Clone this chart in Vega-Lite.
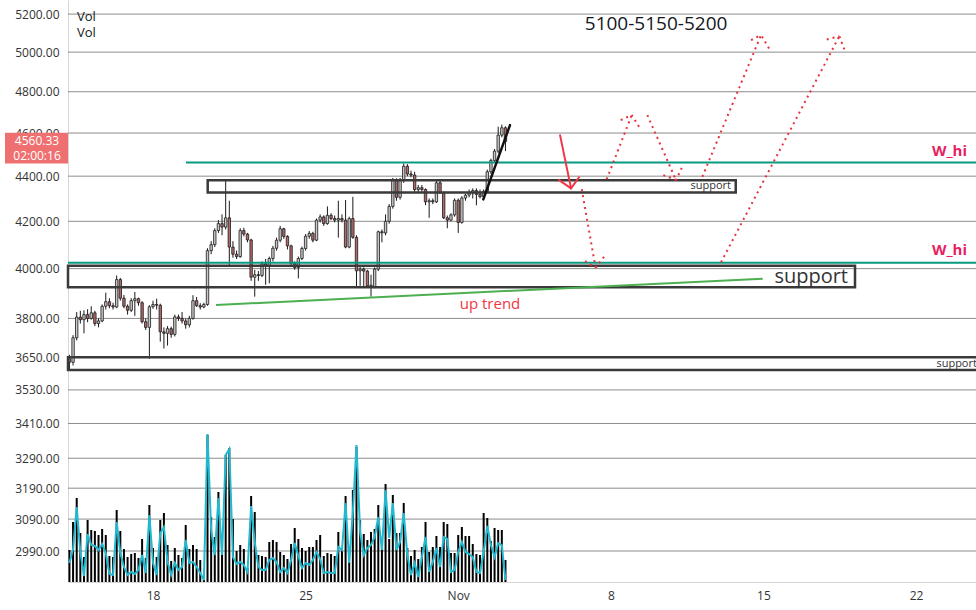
{
"$schema": "https://vega.github.io/schema/vega-lite/v6.json",
"width": 908, "height": 582,
"autosize": {"type": "none"},
"padding": {"left": 68, "top": 0, "right": 0, "bottom": 28},
"background": "white",
"config": {"view": {"stroke": null}, "font": "Open Sans", "axis": {"labelFont": "Open Sans", "labelFontSize": 12, "labelColor": "#333333"}},
"datasets": {
"candles": [
{"t":"2021-10-14T04:00Z","o":3645,"h":3660,"l":3603,"c":3632,"v":3200,"v2":1900},
{"t":"2021-10-14T08:00Z","o":3632,"h":3735,"l":3620,"c":3725,"v":6000,"v2":3300},
{"t":"2021-10-14T12:00Z","o":3725,"h":3825,"l":3715,"c":3805,"v":8400,"v2":7500},
{"t":"2021-10-14T16:00Z","o":3805,"h":3830,"l":3780,"c":3795,"v":4900,"v2":3000},
{"t":"2021-10-14T20:00Z","o":3795,"h":3832,"l":3742,"c":3815,"v":2500,"v2":600},
{"t":"2021-10-15T00:00Z","o":3815,"h":3836,"l":3785,"c":3800,"v":6200,"v2":4800},
{"t":"2021-10-15T04:00Z","o":3800,"h":3848,"l":3795,"c":3822,"v":5200,"v2":3700},
{"t":"2021-10-15T08:00Z","o":3822,"h":3830,"l":3770,"c":3780,"v":5100,"v2":3600},
{"t":"2021-10-15T12:00Z","o":3780,"h":3800,"l":3765,"c":3790,"v":4700,"v2":3200},
{"t":"2021-10-15T16:00Z","o":3790,"h":3855,"l":3785,"c":3848,"v":5300,"v2":3800},
{"t":"2021-10-15T20:00Z","o":3848,"h":3902,"l":3835,"c":3866,"v":4700,"v2":2900},
{"t":"2021-10-16T00:00Z","o":3866,"h":3880,"l":3840,"c":3850,"v":2600,"v2":800},
{"t":"2021-10-16T04:00Z","o":3850,"h":3862,"l":3835,"c":3845,"v":2500,"v2":700},
{"t":"2021-10-16T08:00Z","o":3845,"h":3972,"l":3840,"c":3955,"v":7200,"v2":6000},
{"t":"2021-10-16T12:00Z","o":3955,"h":3962,"l":3870,"c":3880,"v":5100,"v2":2900},
{"t":"2021-10-16T16:00Z","o":3880,"h":3893,"l":3840,"c":3848,"v":3300,"v2":1500},
{"t":"2021-10-16T20:00Z","o":3848,"h":3855,"l":3815,"c":3832,"v":2500,"v2":700},
{"t":"2021-10-17T00:00Z","o":3832,"h":3880,"l":3825,"c":3870,"v":2800,"v2":1000},
{"t":"2021-10-17T04:00Z","o":3870,"h":3905,"l":3810,"c":3878,"v":2900,"v2":800},
{"t":"2021-10-17T08:00Z","o":3878,"h":3882,"l":3850,"c":3862,"v":2400,"v2":1200},
{"t":"2021-10-17T12:00Z","o":3862,"h":3868,"l":3780,"c":3787,"v":4300,"v2":2700},
{"t":"2021-10-17T16:00Z","o":3787,"h":3800,"l":3755,"c":3765,"v":2400,"v2":900},
{"t":"2021-10-17T20:00Z","o":3765,"h":3852,"l":3645,"c":3846,"v":7700,"v2":6700},
{"t":"2021-10-18T00:00Z","o":3846,"h":3870,"l":3838,"c":3855,"v":3400,"v2":1900},
{"t":"2021-10-18T04:00Z","o":3855,"h":3878,"l":3835,"c":3852,"v":2500,"v2":700},
{"t":"2021-10-18T08:00Z","o":3852,"h":3858,"l":3710,"c":3748,"v":6200,"v2":4900},
{"t":"2021-10-18T12:00Z","o":3748,"h":3765,"l":3684,"c":3742,"v":6900,"v2":5500},
{"t":"2021-10-18T16:00Z","o":3742,"h":3770,"l":3695,"c":3760,"v":3700,"v2":2000},
{"t":"2021-10-18T20:00Z","o":3760,"h":3768,"l":3725,"c":3738,"v":2100,"v2":700},
{"t":"2021-10-19T00:00Z","o":3738,"h":3815,"l":3730,"c":3806,"v":3400,"v2":1900},
{"t":"2021-10-19T04:00Z","o":3806,"h":3815,"l":3790,"c":3800,"v":2700,"v2":1200},
{"t":"2021-10-19T08:00Z","o":3800,"h":3825,"l":3780,"c":3790,"v":2400,"v2":1500},
{"t":"2021-10-19T12:00Z","o":3790,"h":3800,"l":3760,"c":3775,"v":5700,"v2":4200},
{"t":"2021-10-19T16:00Z","o":3775,"h":3810,"l":3765,"c":3800,"v":3300,"v2":1900},
{"t":"2021-10-19T20:00Z","o":3800,"h":3892,"l":3795,"c":3870,"v":3700,"v2":2000},
{"t":"2021-10-20T00:00Z","o":3870,"h":3885,"l":3845,"c":3850,"v":3300,"v2":1500},
{"t":"2021-10-20T04:00Z","o":3850,"h":3860,"l":3835,"c":3845,"v":2200,"v2":900},
{"t":"2021-10-20T08:00Z","o":3845,"h":3862,"l":3840,"c":3855,"v":200,"v2":200},
{"t":"2021-10-20T12:00Z","o":3855,"h":4085,"l":3850,"c":4075,"v":14700,"v2":14800},
{"t":"2021-10-20T16:00Z","o":4075,"h":4115,"l":4060,"c":4100,"v":6500,"v2":5200},
{"t":"2021-10-20T20:00Z","o":4100,"h":4170,"l":4090,"c":4160,"v":4500,"v2":2700},
{"t":"2021-10-21T00:00Z","o":4160,"h":4205,"l":4150,"c":4190,"v":9000,"v2":8400},
{"t":"2021-10-21T04:00Z","o":4190,"h":4230,"l":4140,"c":4175,"v":2900,"v2":2700},
{"t":"2021-10-21T08:00Z","o":4175,"h":4380,"l":4165,"c":4215,"v":12700,"v2":12700},
{"t":"2021-10-21T12:00Z","o":4215,"h":4290,"l":4010,"c":4090,"v":13400,"v2":13300},
{"t":"2021-10-21T16:00Z","o":4090,"h":4115,"l":4045,"c":4060,"v":6300,"v2":2500},
{"t":"2021-10-21T20:00Z","o":4060,"h":4075,"l":4040,"c":4050,"v":3100,"v2":1800},
{"t":"2021-10-22T00:00Z","o":4050,"h":4170,"l":4045,"c":4160,"v":3700,"v2":2000},
{"t":"2021-10-22T04:00Z","o":4160,"h":4172,"l":4135,"c":4145,"v":3300,"v2":1700},
{"t":"2021-10-22T08:00Z","o":4145,"h":4150,"l":4110,"c":4120,"v":1400,"v2":1000},
{"t":"2021-10-22T12:00Z","o":4120,"h":4125,"l":3950,"c":3965,"v":8600,"v2":7600},
{"t":"2021-10-22T16:00Z","o":3965,"h":3995,"l":3886,"c":3975,"v":7000,"v2":4000},
{"t":"2021-10-22T20:00Z","o":3975,"h":3990,"l":3950,"c":3972,"v":2700,"v2":1500},
{"t":"2021-10-23T00:00Z","o":3972,"h":4030,"l":3965,"c":4020,"v":2600,"v2":1200},
{"t":"2021-10-23T04:00Z","o":4020,"h":4040,"l":3934,"c":4010,"v":2500,"v2":1200},
{"t":"2021-10-23T08:00Z","o":4010,"h":4050,"l":3940,"c":4042,"v":4000,"v2":2200},
{"t":"2021-10-23T12:00Z","o":4042,"h":4095,"l":4030,"c":4085,"v":4200,"v2":2400},
{"t":"2021-10-23T16:00Z","o":4085,"h":4130,"l":4075,"c":4119,"v":4000,"v2":2000},
{"t":"2021-10-23T20:00Z","o":4119,"h":4180,"l":4110,"c":4168,"v":3000,"v2":1000},
{"t":"2021-10-24T00:00Z","o":4168,"h":4172,"l":4125,"c":4135,"v":2700,"v2":1400},
{"t":"2021-10-24T04:00Z","o":4135,"h":4140,"l":4080,"c":4095,"v":2300,"v2":900},
{"t":"2021-10-24T08:00Z","o":4095,"h":4100,"l":4015,"c":4022,"v":3800,"v2":2200},
{"t":"2021-10-24T12:00Z","o":4022,"h":4030,"l":3995,"c":4005,"v":5400,"v2":3900},
{"t":"2021-10-24T16:00Z","o":4005,"h":4050,"l":3960,"c":4042,"v":4300,"v2":2600},
{"t":"2021-10-24T20:00Z","o":4042,"h":4092,"l":4035,"c":4084,"v":3400,"v2":1400},
{"t":"2021-10-25T00:00Z","o":4084,"h":4145,"l":4075,"c":4136,"v":3100,"v2":1900},
{"t":"2021-10-25T04:00Z","o":4136,"h":4158,"l":4125,"c":4148,"v":3500,"v2":1700},
{"t":"2021-10-25T08:00Z","o":4148,"h":4155,"l":4110,"c":4119,"v":3500,"v2":2200},
{"t":"2021-10-25T12:00Z","o":4119,"h":4212,"l":4115,"c":4205,"v":4200,"v2":3000},
{"t":"2021-10-25T16:00Z","o":4205,"h":4230,"l":4195,"c":4219,"v":4700,"v2":2300},
{"t":"2021-10-25T20:00Z","o":4219,"h":4226,"l":4180,"c":4190,"v":2600,"v2":900},
{"t":"2021-10-26T00:00Z","o":4190,"h":4265,"l":4185,"c":4226,"v":2900,"v2":1000},
{"t":"2021-10-26T04:00Z","o":4226,"h":4235,"l":4205,"c":4212,"v":2800,"v2":900},
{"t":"2021-10-26T08:00Z","o":4212,"h":4225,"l":4195,"c":4205,"v":2600,"v2":900},
{"t":"2021-10-26T12:00Z","o":4205,"h":4290,"l":4130,"c":4212,"v":5000,"v2":3500},
{"t":"2021-10-26T16:00Z","o":4212,"h":4230,"l":4195,"c":4205,"v":3300,"v2":3200},
{"t":"2021-10-26T20:00Z","o":4205,"h":4293,"l":4085,"c":4090,"v":8600,"v2":7900},
{"t":"2021-10-27T00:00Z","o":4090,"h":4220,"l":4085,"c":4212,"v":2000,"v2":1900},
{"t":"2021-10-27T04:00Z","o":4212,"h":4307,"l":4125,"c":4131,"v":9200,"v2":7000},
{"t":"2021-10-27T08:00Z","o":4131,"h":4140,"l":3927,"c":3991,"v":13500,"v2":13700},
{"t":"2021-10-27T12:00Z","o":3991,"h":4012,"l":3930,"c":3998,"v":6200,"v2":5000},
{"t":"2021-10-27T16:00Z","o":3998,"h":4005,"l":3928,"c":3990,"v":4800,"v2":2700},
{"t":"2021-10-27T20:00Z","o":3990,"h":3995,"l":3925,"c":3930,"v":4200,"v2":3400},
{"t":"2021-10-28T00:00Z","o":3932,"h":3975,"l":3886,"c":3925,"v":5000,"v2":3700},
{"t":"2021-10-28T04:00Z","o":3925,"h":4005,"l":3920,"c":3998,"v":5300,"v2":4500},
{"t":"2021-10-28T08:00Z","o":3998,"h":4160,"l":3990,"c":4155,"v":7700,"v2":6500},
{"t":"2021-10-28T12:00Z","o":4155,"h":4165,"l":4110,"c":4150,"v":3400,"v2":3200},
{"t":"2021-10-28T16:00Z","o":4150,"h":4230,"l":4140,"c":4200,"v":9800,"v2":9200},
{"t":"2021-10-28T20:00Z","o":4200,"h":4275,"l":4190,"c":4265,"v":4300,"v2":4400},
{"t":"2021-10-29T00:00Z","o":4265,"h":4392,"l":4255,"c":4382,"v":8700,"v2":7900},
{"t":"2021-10-29T04:00Z","o":4382,"h":4390,"l":4290,"c":4305,"v":4900,"v2":3200},
{"t":"2021-10-29T08:00Z","o":4305,"h":4392,"l":4295,"c":4380,"v":4900,"v2":4000},
{"t":"2021-10-29T12:00Z","o":4380,"h":4458,"l":4370,"c":4445,"v":7900,"v2":6900},
{"t":"2021-10-29T16:00Z","o":4445,"h":4455,"l":4400,"c":4410,"v":3400,"v2":2700},
{"t":"2021-10-29T20:00Z","o":4410,"h":4425,"l":4395,"c":4405,"v":2600,"v2":700},
{"t":"2021-10-30T00:00Z","o":4405,"h":4420,"l":4330,"c":4340,"v":3200,"v2":1900},
{"t":"2021-10-30T04:00Z","o":4340,"h":4360,"l":4325,"c":4348,"v":2300,"v2":500},
{"t":"2021-10-30T08:00Z","o":4348,"h":4360,"l":4330,"c":4340,"v":3500,"v2":2500},
{"t":"2021-10-30T12:00Z","o":4340,"h":4345,"l":4270,"c":4285,"v":6000,"v2":4500},
{"t":"2021-10-30T16:00Z","o":4285,"h":4300,"l":4215,"c":4290,"v":3000,"v2":1000},
{"t":"2021-10-30T20:00Z","o":4290,"h":4300,"l":4275,"c":4285,"v":3500,"v2":2000},
{"t":"2021-10-31T00:00Z","o":4285,"h":4385,"l":4280,"c":4370,"v":4600,"v2":3400},
{"t":"2021-10-31T04:00Z","o":4370,"h":4380,"l":4320,"c":4325,"v":3500,"v2":1500},
{"t":"2021-10-31T08:00Z","o":4325,"h":4330,"l":4210,"c":4215,"v":6000,"v2":4500},
{"t":"2021-10-31T12:00Z","o":4215,"h":4225,"l":4170,"c":4205,"v":5800,"v2":4300},
{"t":"2021-10-31T16:00Z","o":4205,"h":4235,"l":4200,"c":4228,"v":2900,"v2":1000},
{"t":"2021-10-31T20:00Z","o":4228,"h":4300,"l":4220,"c":4292,"v":2900,"v2":1200},
{"t":"2021-11-01T00:00Z","o":4292,"h":4300,"l":4150,"c":4195,"v":4700,"v2":3000},
{"t":"2021-11-01T04:00Z","o":4195,"h":4310,"l":4190,"c":4302,"v":5500,"v2":4000},
{"t":"2021-11-01T08:00Z","o":4302,"h":4320,"l":4290,"c":4315,"v":4600,"v2":3000},
{"t":"2021-11-01T12:00Z","o":4315,"h":4340,"l":4305,"c":4325,"v":4600,"v2":2800},
{"t":"2021-11-01T16:00Z","o":4325,"h":4345,"l":4300,"c":4335,"v":3800,"v2":2500},
{"t":"2021-11-01T20:00Z","o":4335,"h":4345,"l":4270,"c":4318,"v":2800,"v2":1000},
{"t":"2021-11-02T00:00Z","o":4318,"h":4340,"l":4300,"c":4308,"v":2700,"v2":900},
{"t":"2021-11-02T04:00Z","o":4308,"h":4340,"l":4300,"c":4332,"v":6900,"v2":3000},
{"t":"2021-11-02T08:00Z","o":4332,"h":4430,"l":4325,"c":4420,"v":6400,"v2":5600},
{"t":"2021-11-02T12:00Z","o":4420,"h":4480,"l":4410,"c":4472,"v":4100,"v2":3700},
{"t":"2021-11-02T16:00Z","o":4472,"h":4525,"l":4465,"c":4515,"v":5400,"v2":2500},
{"t":"2021-11-02T20:00Z","o":4515,"h":4630,"l":4505,"c":4590,"v":5200,"v2":3900},
{"t":"2021-11-03T00:00Z","o":4590,"h":4640,"l":4580,"c":4625,"v":5200,"v2":3700},
{"t":"2021-11-03T04:00Z","o":4625,"h":4632,"l":4515,"c":4560.33,"v":2200,"v2":200}
]
},
"layer": [
{
"layer": [
{
"data": {"values": [{"p": 5200}, {"p": 5000}, {"p": 4800}, {"p": 4600}, {"p": 4400}, {"p": 4200}, {"p": 4000}, {"p": 3800}, {"p": 3650}, {"p": 3530}, {"p": 3410}, {"p": 3290}, {"p": 3190}, {"p": 3090}, {"p": 2990}]},
"mark": {"type": "rule", "color": "#8c8c8c", "strokeWidth": 1},
"encoding": {
"y": {"field": "p", "type": "quantitative", "title": null,
"scale": {"type": "log", "domain": [2896, 5276], "nice": false},
"axis": {"title": null, "zindex": 0, "values": [5200, 5000, 4800, 4600, 4400, 4200, 4000, 3800, 3650, 3530, 3410, 3290, 3190, 3090, 2990], "format": ".2f", "grid": false, "ticks": false, "domainColor": "#d6d6d6", "labelPadding": 9, "labelFlush": false, "labelOverlap": false}}
}
},
{
"data": {"name": "candles"},
"mark": {"type": "rule", "color": "#1a1a1a", "strokeWidth": 1},
"encoding": {
"x": {"field": "t", "type": "temporal", "title": null,
"scale": {"type": "utc", "padding": 0, "domain": [{"year": 2021, "month": 10, "date": 14, "hours": 2, "minutes": 25, "utc": true}, {"year": 2021, "month": 11, "date": 24, "hours": 18, "utc": true}]},
"axis": {"title": null, "zindex": 0, "values": [{"year": 2021, "month": 10, "date": 18, "utc": true}, {"year": 2021, "month": 10, "date": 25, "utc": true}, {"year": 2021, "month": 11, "date": 1, "utc": true}, {"year": 2021, "month": 11, "date": 8, "utc": true}, {"year": 2021, "month": 11, "date": 15, "utc": true}, {"year": 2021, "month": 11, "date": 22, "utc": true}],
"labelExpr": "utcdate(datum.value) == 1 ? 'Nov' : utcFormat(datum.value, '%-d')",
"grid": false, "ticks": false, "domainColor": "#d6d6d6", "labelPadding": 8, "labelFlush": false}},
"y": {"field": "l", "type": "quantitative", "title": null},
"y2": {"field": "h"}
}
},
{
"data": {"name": "candles"},
"mark": {"type": "bar", "width": 2.4, "stroke": "#1a1a1a", "strokeWidth": 0.8},
"encoding": {
"x": {"field": "t", "type": "temporal", "title": null},
"y": {"field": "o", "type": "quantitative", "title": null},
"y2": {"field": "c"},
"fill": {"condition": {"test": "datum.c >= datum.o", "value": "#c8c8c8"}, "value": "#b36a6a"}
}
},
{
"data": {"values": [
{"t1": "2021-10-20T12:12Z", "t2": "2021-11-13T17:30Z", "p1": 4327, "p2": 4382},
{"t1": "2021-10-14T02:25Z", "t2": "2021-11-19T04:48Z", "p1": 3924, "p2": 4012},
{"t1": "2021-10-14T02:25Z", "t2": "2021-11-27T00:00Z", "p1": 3603, "p2": 3651}
]},
"mark": {"type": "rect", "fill": "transparent", "stroke": "#3a3a3a", "strokeWidth": 2.5},
"encoding": {
"x": {"field": "t1", "type": "temporal", "title": null}, "x2": {"field": "t2"},
"y": {"field": "p1", "type": "quantitative", "title": null}, "y2": {"field": "p2"}
}
},
{
"data": {"values": [
{"t1": "2021-10-19T12:20Z", "t2": "2021-11-24T18:00Z", "p1": 4462, "p2": 4462},
{"t1": "2021-10-14T02:25Z", "t2": "2021-11-24T18:00Z", "p1": 4024, "p2": 4024}
]},
"mark": {"type": "rule", "color": "#089981", "strokeWidth": 2},
"encoding": {
"x": {"field": "t1", "type": "temporal", "title": null}, "x2": {"field": "t2"},
"y": {"field": "p1", "type": "quantitative", "title": null}, "y2": {"field": "p2"}
}
},
{
"data": {"values": [{"t1": "2021-10-20T21:22Z", "t2": "2021-11-14T23:12Z", "p1": 3853, "p2": 3959}]},
"mark": {"type": "rule", "color": "#4caf50", "strokeWidth": 2},
"encoding": {
"x": {"field": "t1", "type": "temporal", "title": null}, "x2": {"field": "t2"},
"y": {"field": "p1", "type": "quantitative", "title": null}, "y2": {"field": "p2"}
}
},
{
"data": {"values": [{"t1": "2021-11-02T03:36Z", "t2": "2021-11-03T09:00Z", "p1": 4296, "p2": 4638}]},
"mark": {"type": "rule", "color": "#111111", "strokeWidth": 2.5, "strokeCap": "round"},
"encoding": {
"x": {"field": "t1", "type": "temporal", "title": null}, "x2": {"field": "t2"},
"y": {"field": "p1", "type": "quantitative", "title": null}, "y2": {"field": "p2"}
}
},
{
"data": {"values": [
{"t1": "2021-11-05T16:06Z", "t2": "2021-11-06T04:12Z", "p1": 4590, "p2": 4345},
{"t1": "2021-11-05T15:00Z", "t2": "2021-11-06T04:12Z", "p1": 4382, "p2": 4345},
{"t1": "2021-11-06T13:00Z", "t2": "2021-11-06T04:12Z", "p1": 4395, "p2": 4345}
]},
"mark": {"type": "rule", "color": "#f23645", "strokeWidth": 2, "strokeCap": "round"},
"encoding": {
"x": {"field": "t1", "type": "temporal", "title": null}, "x2": {"field": "t2"},
"y": {"field": "p1", "type": "quantitative", "title": null}, "y2": {"field": "p2"}
}
},
{
"data": {"values": [
{"t1": "2021-11-06T15:58Z", "t2": "2021-11-07T07:10Z", "p1": 4341, "p2": 4004},
{"t1": "2021-11-06T19:36Z", "t2": "2021-11-07T07:10Z", "p1": 4031, "p2": 4004},
{"t1": "2021-11-07T16:31Z", "t2": "2021-11-07T07:10Z", "p1": 4049, "p2": 4004},
{"t1": "2021-11-07T19:29Z", "t2": "2021-11-08T23:01Z", "p1": 4386, "p2": 4686},
{"t1": "2021-11-08T10:54Z", "t2": "2021-11-08T23:01Z", "p1": 4662, "p2": 4686},
{"t1": "2021-11-09T07:03Z", "t2": "2021-11-08T23:01Z", "p1": 4630, "p2": 4686},
{"t1": "2021-11-09T16:11Z", "t2": "2021-11-10T23:47Z", "p1": 4686, "p2": 4382},
{"t1": "2021-11-10T09:48Z", "t2": "2021-11-10T23:47Z", "p1": 4405, "p2": 4382},
{"t1": "2021-11-11T06:04Z", "t2": "2021-11-10T23:47Z", "p1": 4438, "p2": 4382},
{"t1": "2021-11-12T04:44Z", "t2": "2021-11-14T21:22Z", "p1": 4397, "p2": 5089},
{"t1": "2021-11-14T10:21Z", "t2": "2021-11-14T21:22Z", "p1": 5062, "p2": 5089},
{"t1": "2021-11-15T06:10Z", "t2": "2021-11-14T21:22Z", "p1": 5019, "p2": 5089},
{"t1": "2021-11-13T01:19Z", "t2": "2021-11-18T11:34Z", "p1": 4026, "p2": 5083},
{"t1": "2021-11-17T21:41Z", "t2": "2021-11-18T11:34Z", "p1": 5066, "p2": 5083},
{"t1": "2021-11-18T17:04Z", "t2": "2021-11-18T11:34Z", "p1": 5014, "p2": 5083}
]},
"mark": {"type": "rule", "color": "#e8323e", "strokeWidth": 2, "strokeDash": [2, 4]},
"encoding": {
"x": {"field": "t1", "type": "temporal", "title": null}, "x2": {"field": "t2"},
"y": {"field": "p1", "type": "quantitative", "title": null}, "y2": {"field": "p2"}
}
},
{
"data": {"values": [{"t": "2021-11-10T01:48Z", "p": 5147, "label": "5100-5150-5200"}]},
"mark": {"type": "text", "fontSize": 19, "color": "#131722", "align": "center", "baseline": "middle"},
"encoding": {"x": {"field": "t", "type": "temporal", "title": null}, "y": {"field": "p", "type": "quantitative", "title": null}, "text": {"field": "label"}}
},
{
"data": {"values": [{"t": "2021-11-24T08:06Z", "p": 4515, "label": "W_hi"}, {"t": "2021-11-24T08:06Z", "p": 4077, "label": "W_hi"}]},
"mark": {"type": "text", "fontSize": 15, "fontWeight": "bold", "color": "#e91e63", "align": "right", "baseline": "middle"},
"encoding": {"x": {"field": "t", "type": "temporal", "title": null}, "y": {"field": "p", "type": "quantitative", "title": null}, "text": {"field": "label"}}
},
{
"data": {"values": [{"t": "2021-11-13T12:18Z", "p": 4356, "label": "support"}, {"t": "2021-11-24T19:00Z", "p": 3626, "label": "support"}]},
"mark": {"type": "text", "fontSize": 11, "color": "#333333", "align": "right", "baseline": "middle"},
"encoding": {"x": {"field": "t", "type": "temporal", "title": null}, "y": {"field": "p", "type": "quantitative", "title": null}, "text": {"field": "label"}}
},
{
"data": {"values": [{"t": "2021-11-18T21:06Z", "p": 3966, "label": "support"}]},
"mark": {"type": "text", "fontSize": 20, "color": "#333333", "align": "right", "baseline": "middle"},
"encoding": {"x": {"field": "t", "type": "temporal", "title": null}, "y": {"field": "p", "type": "quantitative", "title": null}, "text": {"field": "label"}}
},
{
"data": {"values": [{"t": "2021-11-02T11:00Z", "p": 3857, "label": "up trend"}]},
"mark": {"type": "text", "fontSize": 15, "color": "#f23645", "align": "center", "baseline": "middle"},
"encoding": {"x": {"field": "t", "type": "temporal", "title": null}, "y": {"field": "p", "type": "quantitative", "title": null}, "text": {"field": "label"}}
},
{
"data": {"values": [{"t": "2021-10-14T12:20Z", "p": 5187, "label": "Vol"}, {"t": "2021-10-14T12:20Z", "p": 5099, "label": "Vol"}]},
"mark": {"type": "text", "fontSize": 13, "color": "#131722", "align": "left", "baseline": "middle"},
"encoding": {"x": {"field": "t", "type": "temporal", "title": null}, "y": {"field": "p", "type": "quantitative", "title": null}, "text": {"field": "label"}}
},
{
"data": {"values": [{"t": "2021-10-14T02:25Z", "p1": 4601, "p2": 4458}]},
"mark": {"type": "rect", "color": "#ef7070", "xOffset": -63, "x2Offset": 0},
"encoding": {"x": {"field": "t", "type": "temporal", "title": null}, "x2": {"field": "t"}, "y": {"field": "p1", "type": "quantitative", "title": null}, "y2": {"field": "p2"}}
},
{
"data": {"values": [{"t": "2021-10-14T02:25Z", "p": 4560.33, "label": "4560.33"}]},
"mark": {"type": "text", "fontSize": 12, "color": "white", "align": "center", "baseline": "middle", "dx": -31},
"encoding": {"x": {"field": "t", "type": "temporal", "title": null}, "y": {"field": "p", "type": "quantitative", "title": null}, "text": {"field": "label"}}
},
{
"data": {"values": [{"t": "2021-10-14T02:25Z", "p": 4560.33, "label": "02:00:16"}]},
"mark": {"type": "text", "fontSize": 12, "color": "white", "align": "center", "baseline": "middle", "dx": -31, "dy": 15},
"encoding": {"x": {"field": "t", "type": "temporal", "title": null}, "y": {"field": "p", "type": "quantitative", "title": null}, "text": {"field": "label"}}
}
]
},
{
"layer": [
{
"data": {"name": "candles"},
"mark": {"type": "bar", "width": 2, "color": "#000000"},
"encoding": {
"x": {"field": "t", "type": "temporal", "title": null},
"y": {"field": "v", "type": "quantitative", "scale": {"domain": [0, 58200], "nice": false}, "axis": null}
}
},
{
"data": {"name": "candles"},
"mark": {"type": "line", "color": "#22b8cf", "strokeWidth": 2},
"encoding": {
"x": {"field": "t", "type": "temporal", "title": null},
"y": {"field": "v2", "type": "quantitative", "axis": null}
}
}
]
}
],
"resolve": {"scale": {"y": "independent"}}
}
